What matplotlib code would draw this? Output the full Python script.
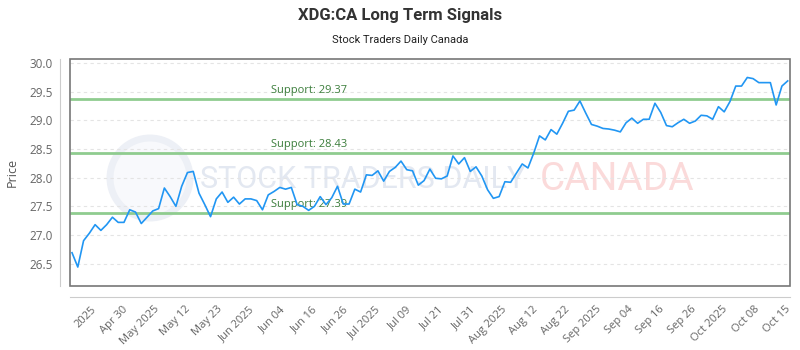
import numpy as np
import matplotlib
matplotlib.use('Agg')
import matplotlib.pyplot as plt
from matplotlib.patches import Circle, Rectangle

# closing prices, one per trading day
prices = [
    26.69, 26.44, 26.90, 27.03, 27.18, 27.08, 27.18, 27.31, 27.22, 27.22,
    27.44, 27.40, 27.20, 27.31, 27.42, 27.46, 27.82, 27.67, 27.50, 27.85,
    28.09, 28.11, 27.73, 27.53, 27.32,
    27.63, 27.75, 27.57, 27.66, 27.54, 27.63, 27.63, 27.60, 27.44, 27.70,
    27.76, 27.83, 27.80, 27.83, 27.53, 27.50, 27.43, 27.50, 27.67, 27.53,
    27.65, 27.85, 27.54, 27.54, 27.80,
    27.75, 28.05, 28.04, 28.12, 27.94, 28.11, 28.18, 28.29, 28.14, 28.12,
    27.87, 27.95, 28.15, 27.99, 27.98, 28.03, 28.38, 28.24, 28.35, 28.11,
    28.19, 28.03, 27.79, 27.64,
    27.67, 27.93, 27.92, 28.08, 28.24, 28.17, 28.43, 28.73, 28.66, 28.84,
    28.76, 28.95, 29.16, 29.18, 29.34, 29.13, 28.93, 28.90, 28.86, 28.85,
    28.83, 28.80, 28.96, 29.04, 28.95,
    29.02, 29.02, 29.30, 29.14, 28.91, 28.89, 28.96, 29.02, 28.95, 28.99,
    29.09, 29.08, 29.02, 29.24, 29.15, 29.33, 29.60, 29.60, 29.75, 29.73,
    29.66, 29.66, 29.66, 29.27, 29.60, 29.69,
]

supports = [29.37, 28.43, 27.39]

tick_labels = ['2025', 'Apr 30', 'May 2025', 'May 12', 'May 23', 'Jun 2025',
               'Jun 04', 'Jun 16', 'Jun 26', 'Jul 2025', 'Jul 09', 'Jul 21',
               'Jul 31', 'Aug 2025', 'Aug 12', 'Aug 22', 'Sep 2025', 'Sep 04',
               'Sep 16', 'Sep 26', 'Oct 2025', 'Oct 08', 'Oct 15']

y_ticks = [26.5, 27.0, 27.5, 28.0, 28.5, 29.0, 29.5, 30.0]

plt.rcParams['font.family'] = ['Open Sans', 'DejaVu Sans']

fig = plt.figure(figsize=(8, 3.5), dpi=100)
ax = fig.add_axes([0.0875, 0.183, 0.9, 0.648])
ax.set_facecolor('none')

# offset axis lines first (moving a spine resets the ticks)
for side in ['top', 'right']:
    ax.spines[side].set_visible(False)
ax.spines['left'].set_position(('outward', 7.2))
ax.spines['bottom'].set_position(('outward', 8))
ax.spines['left'].set_color('#cccccc')
ax.spines['bottom'].set_color('#cccccc')

x = np.arange(len(prices))

# watermark
fig.add_artist(Circle((1.50, 1.72), 0.40, transform=fig.dpi_scale_trans,
                      facecolor='#f8f9fc', edgecolor='#edf0f6', lw=5, zorder=0))
ax.text(0.18, 0.47, 'STOCK TRADERS DAILY', transform=ax.transAxes,
        fontsize=22, color='#e3e8f1', ha='left', va='center',
        family=['Roboto', 'DejaVu Sans'], zorder=0.5)
ax.text(0.653, 0.47, 'CANADA', transform=ax.transAxes,
        fontsize=28, color='#fbdada', ha='left', va='center',
        family=['Roboto', 'DejaVu Sans'], zorder=0.5)

for s in supports:
    ax.axhline(s, color='#8fcc8f', lw=2, zorder=2)
    ax.text(34.5, s + 0.05, f'Support: {s:.2f}', color='#3b7d3b',
            fontsize=8, ha='left', va='bottom', zorder=3)

ax.plot(x, prices, color='#2196f3', lw=1.2, zorder=4)

ax.set_xlim(-0.35, 124.4)
ax.set_ylim(26.11, 30.07)
ax.set_yticks(y_ticks)
ax.set_yticklabels([f'{v:.1f}' for v in y_ticks])
ax.grid(axis='y', color='#e4e4e4', ls=(0, (3, 3)), lw=0.8, zorder=1)

ax.set_xticks(np.linspace(3.2, 123.6, len(tick_labels)))
ax.set_xticklabels(tick_labels, rotation=45, ha='right', rotation_mode='anchor')

ax.tick_params(axis='both', length=0, labelsize=8, labelcolor='#666666')
ax.tick_params(axis='x', pad=5)
ax.tick_params(axis='y', pad=5, labelsize=8.5)

ax.set_ylabel('Price', fontsize=9, color='#555555', labelpad=8)

# frame around the plot area
ax.add_patch(Rectangle((0, 0), 1, 1, transform=ax.transAxes, fill=False,
                       edgecolor='#777777', lw=1.2, clip_on=False, zorder=5))

fig.text(0.5, 0.955, 'XDG:CA Long Term Signals', ha='center', va='center',
         fontsize=12, fontweight='bold', color='#333333',
         family=['Roboto', 'DejaVu Sans'])
fig.text(0.5, 0.886, 'Stock Traders Daily Canada', ha='center', va='center',
         fontsize=8, color='#222222', family=['Roboto', 'DejaVu Sans'])

fig.savefig('out.png', dpi=100)
